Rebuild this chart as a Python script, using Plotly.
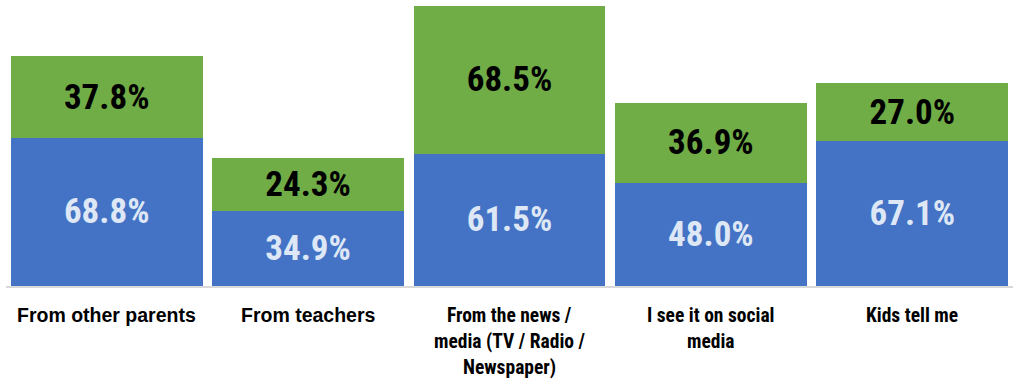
import plotly.graph_objects as go

# Survey responses: where parents hear about the topic
categories = [
    "From other parents",
    "From teachers",
    "From the news /<br>media (TV / Radio /<br>Newspaper)",
    "I see it on social<br>media",
    "Kids tell me",
]
series_blue = [68.8, 34.9, 61.5, 48.0, 67.1]
series_green = [37.8, 24.3, 68.5, 36.9, 27.0]

BLUE = "#4472C4"
GREEN = "#70AD47"
FONT = "Liberation Sans, Arial, sans-serif"
NARROW = "Roboto Condensed, Liberation Sans, sans-serif"

x_keys = [c.replace("<br>", " ") for c in categories]

fig = go.Figure()
fig.add_trace(go.Bar(
    x=x_keys, y=series_blue, marker=dict(color=BLUE, line=dict(width=0)),
    text=[f"{v:.1f}%" for v in series_blue], textposition="inside",
    insidetextanchor="middle", constraintext="none",
    textfont=dict(family=NARROW, size=35, color="#DDE7F5", weight="bold"),
    hoverinfo="skip",
))
fig.add_trace(go.Bar(
    x=x_keys, y=series_green, marker=dict(color=GREEN, line=dict(width=0)),
    text=[f"{v:.1f}%" for v in series_green], textposition="inside",
    insidetextanchor="middle", constraintext="none",
    textfont=dict(family=NARROW, size=35, color="#000000", weight="bold"),
    hoverinfo="skip",
))

# Category labels, one annotation per line so the line spacing can be set
label_fonts = [(FONT, 19.5), (FONT, 19.5), (NARROW, 19.5), (NARROW, 19.5), (NARROW, 19.5)]
annotations = []
for key, cat, (fam, size) in zip(x_keys, categories, label_fonts):
    for i, line in enumerate(cat.split("<br>")):
        annotations.append(dict(
            x=key, xref="x", y=0, yref="paper", yanchor="middle",
            yshift=-29 - 26 * i, text=line, showarrow=False,
            font=dict(family=fam, size=size, color="#000000", weight="bold"),
        ))

fig.update_layout(
    width=1013, height=386,
    margin=dict(l=6, r=0, t=6, b=100),
    barmode="stack", bargap=0.048,
    plot_bgcolor="white", paper_bgcolor="white",
    showlegend=False,
    xaxis=dict(showticklabels=False, ticks="", showgrid=False,
               showline=True, linecolor="#D9D9D9", linewidth=1.5),
    yaxis=dict(range=[0, 130], visible=False, showgrid=False),
    annotations=annotations,
    uniformtext=dict(mode=False),
)

fig.write_html("out.html")
